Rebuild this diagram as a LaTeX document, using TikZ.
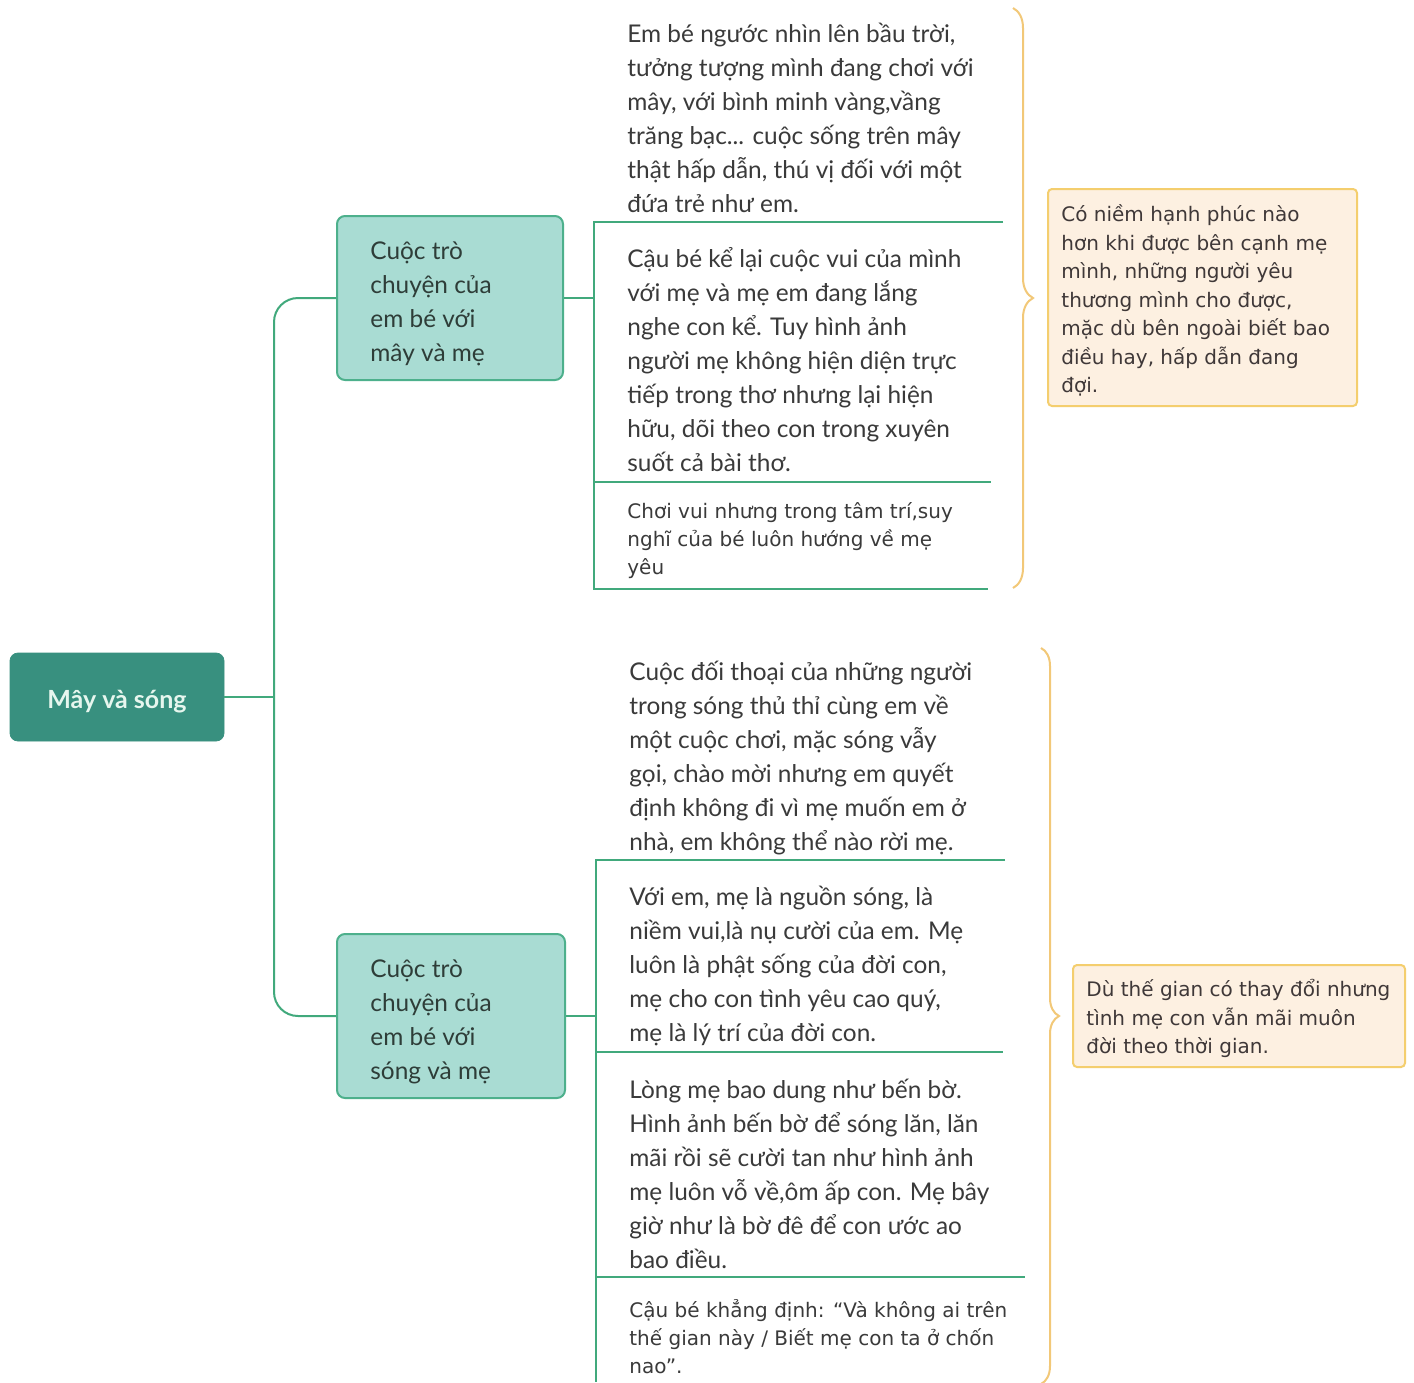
\documentclass[tikz,border=0pt]{standalone}
\usepackage{fontspec}
\setmainfont{Lato}
\newfontfamily\tahfont{DejaVu Sans}
\usetikzlibrary{decorations.pathreplacing}
\definecolor{rootfill}{HTML}{38907F}
\definecolor{roottext}{HTML}{E6F6EE}
\definecolor{brfill}{HTML}{A9DCD3}
\definecolor{brdraw}{HTML}{4DB08C}
\definecolor{brtext}{HTML}{2E3D38}
\definecolor{conncol}{HTML}{41A97C}
\definecolor{leaftext}{HTML}{3A3A3A}
\definecolor{bracecol}{HTML}{F2C878}
\definecolor{sumfill}{HTML}{FDF0E1}
\definecolor{sumdraw}{HTML}{F4CE6E}
\definecolor{sumtext}{HTML}{3F3838}
\tikzset{
  rootbox/.style={fill=rootfill, draw=rootfill, rounded corners=4pt, minimum width=107pt, minimum height=44pt,
    text=roottext, font=\fontsize{12.5}{15}\selectfont\bfseries, inner sep=0pt, text height=12pt, text depth=1pt},
  branchbox/.style={fill=brfill, draw=brdraw, line width=1pt, rounded corners=4pt, minimum height=82pt, inner sep=0pt},
  branchtext/.style={text=brtext, font=\fontsize{12.2}{17}\selectfont, align=left, inner sep=0pt, anchor=west},
  leaf/.style={text=leaftext, font=\fontsize{12.2}{17}\selectfont, align=left, inner sep=0pt, anchor=west},
  leaftah/.style={text=leaftext, font=\tahfont\fontsize{10}{14}\selectfont, align=left, inner sep=0pt, anchor=west},
  sumbox/.style={fill=sumfill, draw=sumdraw, line width=1pt, rounded corners=2pt, inner sep=0pt},
  sumtextstyle/.style={text=sumtext, font=\tahfont\fontsize{10}{14.25}\selectfont, align=left, inner sep=0pt, anchor=west},
  conn/.style={draw=conncol, line width=1pt},
  bracepath/.style={draw=bracecol, line width=1pt, decorate},
}
\begin{document}
\begin{tikzpicture}[x=0.5pt,y=-0.5pt]
\useasboundingbox (0,0) rectangle (1414,1382);
\fill[white] (0,0) rectangle (1414,1382);

% root and branches
\node[rootbox] (root) at (117,697) {Mây và sóng};
\node[branchbox, minimum width=113pt] (b1) at (450,298) {};
\node[branchtext] (b1t) at (370,304) {Cuộc trò\\chuyện của\\em bé với\\mây và mẹ};
\node[branchbox, minimum width=114pt] (b2) at (451,1016) {};
\node[branchtext] (b2t) at (370,1022) {Cuộc trò\\chuyện của\\em bé với\\sóng và mẹ};

\coordinate (trunk) at (274,697);
\draw[conn] (root.east) -- (trunk);
\draw[conn, rounded corners=12pt] (b1.west) -| (trunk) |- (b2.west);

% leaves of branch 1
\node[leaf] (l1) at (627,118) {Em bé ngước nhìn lên bầu trời,\\tưởng tượng mình đang chơi với\\mây, với bình minh vàng,vầng\\trăng bạc... cuộc sống trên mây\\thật hấp dẫn, thú vị đối với một\\đứa trẻ như em.};
\node[leaf] (l2) at (627,360) {Cậu bé kể lại cuộc vui của mình\\với mẹ và mẹ em đang lắng\\nghe con kể. Tuy hình ảnh\\người mẹ không hiện diện trực\\tiếp trong thơ nhưng lại hiện\\hữu, dõi theo con trong xuyên\\suốt cả bài thơ.};
\node[leaftah] (l3) at (627,541) {Chơi vui nhưng trong tâm trí,suy\\nghĩ của bé luôn hướng về mẹ\\yêu};

\coordinate (j1) at (594,298);
\draw[conn] (b1.east) -- (j1);
\draw[conn] (1003,222) -- (594,222) -- (594,589) -- (988,589);
\draw[conn] (594,482) -- (991,482);

% leaves of branch 2
\node[leaf] (l4) at (629,758) {Cuộc đối thoại của những người\\trong sóng thủ thỉ cùng em về\\một cuộc chơi, mặc sóng vẫy\\gọi, chào mời nhưng em quyết\\định không đi vì mẹ muốn em ở\\nhà, em không thể nào rời mẹ.};
\node[leaf] (l5) at (629,966) {Với em, mẹ là nguồn sóng, là\\niềm vui,là nụ cười của em. Mẹ\\luôn là phật sống của đời con,\\mẹ cho con tình yêu cao quý,\\mẹ là lý trí của đời con.};
\node[leaf] (l6) at (629,1174) {Lòng mẹ bao dung như bến bờ.\\Hình ảnh bến bờ để sóng lăn, lăn\\mãi rồi sẽ cười tan như hình ảnh\\mẹ luôn vỗ về,ôm ấp con. Mẹ bây\\giờ như là bờ đê để con ước ao\\bao điều.};
\node[leaftah] (l7) at (629,1337) {Cậu bé khẳng định: “Và không ai trên\\thế gian này / Biết mẹ con ta ở chốn\\nao”.};

\coordinate (j2) at (596,1016);
\draw[conn] (b2.east) -- (j2);
\draw[conn] (1005,860) -- (596,860) -- (596,1382);
\draw[conn] (596,1052) -- (1003,1052);
\draw[conn] (596,1277) -- (1025,1277);

% braces
\coordinate (br1a) at (1013,8);
\coordinate (br1b) at (1013,588);
\draw[bracepath, decoration={brace, amplitude=10pt, aspect=0.5}] (br1a) -- (br1b);
\coordinate (br2a) at (1041,648);
\coordinate (br2b) at (1041,1384);
\draw[bracepath, decoration={brace, amplitude=9pt, aspect=0.5}] (br2a) -- (br2b);

% summaries
\node[sumbox, minimum width=154.5pt, minimum height=108.5pt] (s1) at (1202.5,297.5) {};
\node[sumtextstyle] (s1t) at (1061,300.5) {Có niềm hạnh phúc nào\\hơn khi được bên cạnh mẹ\\mình, những người yêu\\thương mình cho được,\\mặc dù bên ngoài biết bao\\điều hay, hấp dẫn đang\\đợi.};
\node[sumbox, minimum width=166pt, minimum height=51pt] (s2) at (1239,1016) {};
\node[sumtextstyle] (s2t) at (1086,1018.5) {Dù thế gian có thay đổi nhưng\\tình mẹ con vẫn mãi muôn\\đời theo thời gian.};
\end{tikzpicture}
\end{document}
